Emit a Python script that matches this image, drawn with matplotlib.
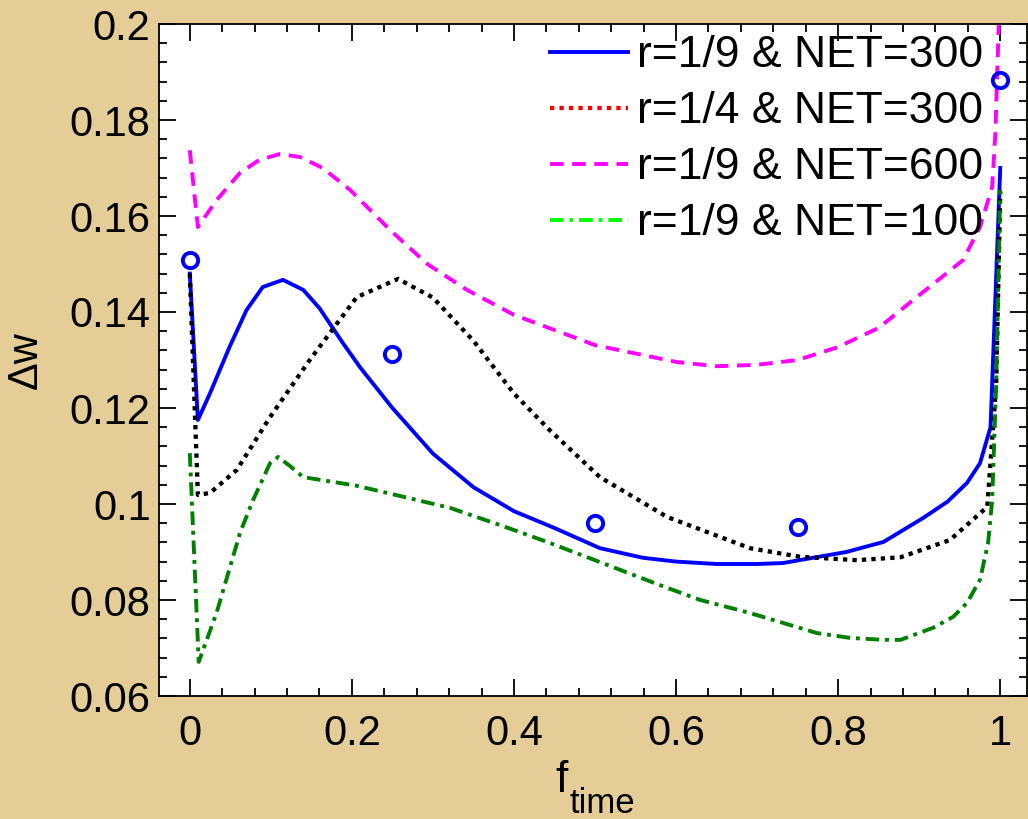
import matplotlib
matplotlib.use("Agg")
import matplotlib.pyplot as plt
from matplotlib.lines import Line2D

plt.rcParams['font.family'] = ['Liberation Sans', 'DejaVu Sans']

# circles (simulation points)
x_pts = [0.0, 0.25, 0.5, 0.75, 1.0]
y_pts = [0.1508, 0.1313, 0.0960, 0.0952, 0.1883]

# r=1/9 & NET=300 (blue solid)
x_b = [0.0, 0.01, 0.025, 0.049, 0.07, 0.09, 0.115, 0.14, 0.16, 0.189, 0.21, 0.25,
       0.3, 0.35, 0.4, 0.45, 0.506, 0.559, 0.6, 0.65, 0.7, 0.732, 0.769, 0.81,
       0.856, 0.905, 0.935, 0.959, 0.975, 0.988, 1.0]
y_b = [0.148, 0.1175, 0.1231, 0.1327, 0.1404, 0.1452, 0.1467, 0.1446, 0.1408, 0.1335,
       0.1285, 0.1200, 0.1105, 0.1035, 0.0985, 0.0950, 0.0908, 0.0888, 0.0880, 0.0875,
       0.0875, 0.0877, 0.0888, 0.0900, 0.0921, 0.0971, 0.1005, 0.1044, 0.1085, 0.116, 0.170]

# r=1/4 & NET=300 (black dotted)
x_k = [0.0, 0.01, 0.025, 0.058, 0.099, 0.148, 0.206, 0.257, 0.3, 0.35, 0.4,
       0.444, 0.506, 0.589, 0.691, 0.753, 0.823, 0.877, 0.938, 0.984, 0.995, 1.0]
y_k = [0.148, 0.1019, 0.1023, 0.1071, 0.1181, 0.1300, 0.1431, 0.1469, 0.1430,
       0.1340, 0.1230, 0.1154, 0.1056, 0.0973, 0.0908, 0.0890, 0.0883, 0.0889, 0.0925,
       0.0994, 0.125, 0.165]

# r=1/9 & NET=600 (magenta dashed)
x_m = [0.0, 0.01, 0.033, 0.062, 0.086, 0.111, 0.136, 0.164, 0.198, 0.247, 0.293,
       0.342, 0.4, 0.5, 0.6, 0.65, 0.7, 0.75, 0.8, 0.85, 0.9, 0.954, 0.975, 0.99,
       0.994, 1.0]
y_m = [0.1737, 0.1577, 0.1633, 0.1690, 0.1717, 0.1729, 0.1723, 0.1700, 0.1654, 0.1571,
       0.1500, 0.1446, 0.1394, 0.1331, 0.1296, 0.1287, 0.1290, 0.1300, 0.1327, 0.1367,
       0.1435, 0.1508, 0.1577, 0.1660, 0.1773, 0.2100]

# r=1/9 & NET=100 (green dash-dot)
x_g = [0.0, 0.011, 0.033, 0.062, 0.078, 0.099, 0.109, 0.123, 0.14, 0.206, 0.321,
       0.383, 0.444, 0.506, 0.58, 0.63, 0.691, 0.774, 0.815, 0.856, 0.877, 0.917,
       0.942, 0.959, 0.975, 0.985, 0.99, 0.995, 1.0]
y_g = [0.1106, 0.0671, 0.0773, 0.0940, 0.1008, 0.1085, 0.1098, 0.1080, 0.1056, 0.1038,
       0.0992, 0.0956, 0.0919, 0.0879, 0.0831, 0.0800, 0.0773, 0.0731, 0.0721, 0.0717,
       0.0717, 0.0742, 0.0765, 0.0794, 0.0842, 0.0919, 0.1008, 0.125, 0.1654]

labels = ['r=1/9 & NET=300', 'r=1/4 & NET=300', 'r=1/9 & NET=600', 'r=1/9 & NET=100']

bg = '#E4CD96'
fig = plt.figure(figsize=(10.28, 8.19), dpi=100, facecolor=bg)
ax = fig.add_axes([159/1028, 1 - 696/819, 868/1028, 672/819])

lw = 2.8
dot = (0, (1, 1.2))
dash = (0, (3.5, 2.2))
dashdot = (0, (3.5, 1.5, 1, 1.5))
ax.plot(x_b, y_b, color='#0000FF', lw=lw, ls='-')
ax.plot(x_k, y_k, color='black', lw=3.1, ls=dot)
ax.plot(x_m, y_m, color='#FF00FF', lw=lw, ls=dash)
ax.plot(x_g, y_g, color='#008000', lw=lw, ls=dashdot)
ax.plot(x_pts, y_pts, ls='none', marker='o', ms=11, mfc='none', mec='#0000FF', mew=2.8)

ax.set_xlim(-0.038, 1.033)
ax.set_ylim(0.06, 0.2)
ax.set_xticks([0, 0.2, 0.4, 0.6, 0.8, 1.0])
ax.set_xticklabels(['0', '0.2', '0.4', '0.6', '0.8', '1'])
ax.set_yticks([0.06, 0.08, 0.1, 0.12, 0.14, 0.16, 0.18, 0.2])
ax.set_yticklabels(['0.06', '0.08', '0.1', '0.12', '0.14', '0.16', '0.18', '0.2'])
ax.set_xticks([i * 0.04 for i in range(26)], minor=True)
ax.set_yticks([0.06 + i * 0.004 for i in range(36)], minor=True)
ax.tick_params(which='both', direction='in', top=True, right=True, width=1.3)
ax.tick_params(which='major', length=12)
ax.tick_params(which='minor', length=6)
ax.tick_params(axis='x', labelsize=30, pad=13)
ax.tick_params(axis='y', labelsize=30, pad=6)
for s in ax.spines.values():
    s.set_linewidth(1.3)

ax.set_ylabel('\u0394w', fontsize=30, labelpad=17)
# x label: f with subscript "time"
fig.text(555/1028, 1 - 792/819, 'f', fontsize=32, ha='left', va='baseline')
fig.text(569/1028, 1 - 813/819, 'time', fontsize=25, ha='left', va='baseline')

handles = [
    Line2D([], [], color='#0000FF', lw=lw, ls='-'),
    Line2D([], [], color='#FF0000', lw=3.1, ls=dot),
    Line2D([], [], color='#FF00FF', lw=lw, ls=dash),
    Line2D([], [], color='#00FF00', lw=lw, ls=dashdot),
]
ax.legend(handles, labels, loc='upper right', bbox_to_anchor=(0.955, 0.99),
          frameon=False, fontsize=32, handlelength=1.75, handletextpad=0.22,
          labelspacing=0.34, borderpad=0, borderaxespad=0.1)

fig.savefig('out.png', dpi=100, facecolor=bg)
